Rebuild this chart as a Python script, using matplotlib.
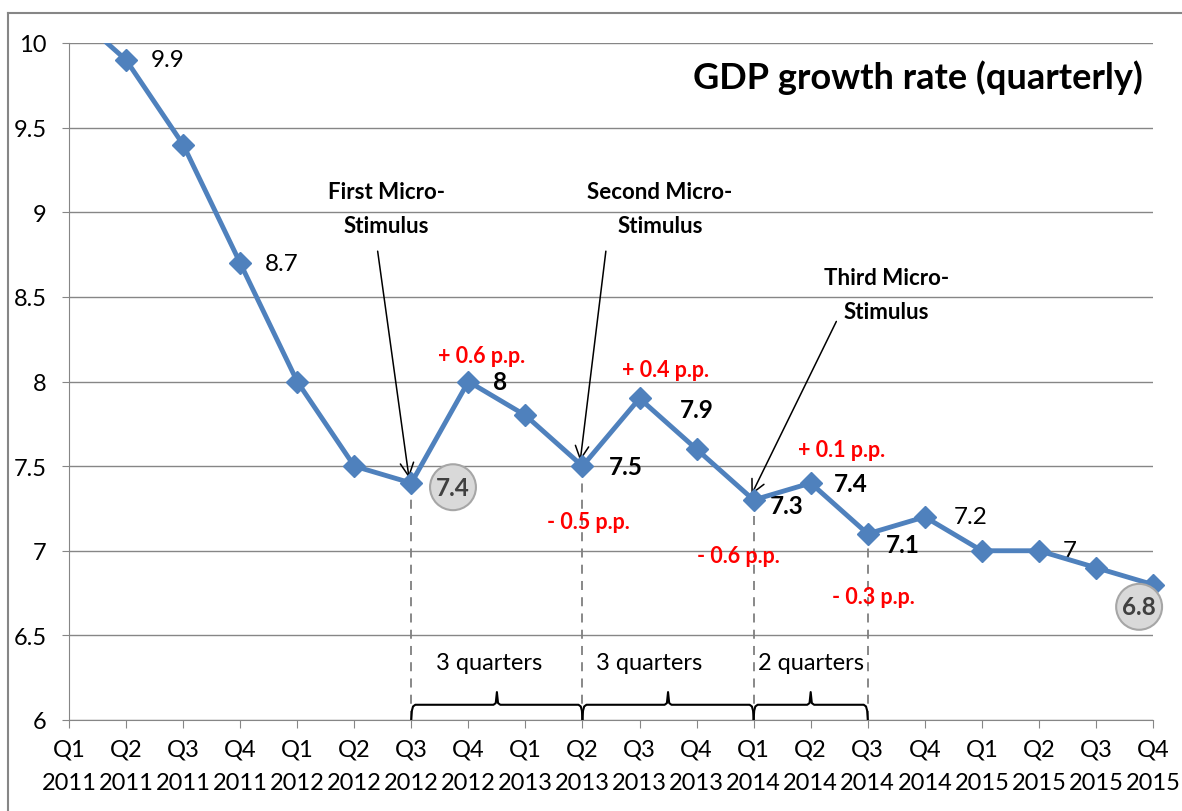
import matplotlib
matplotlib.use('Agg')
import matplotlib.pyplot as plt
from matplotlib.lines import Line2D

# Dados
quarters = ['Q1', 'Q2', 'Q3', 'Q4'] * 5
years = ['2011'] * 4 + ['2012'] * 4 + ['2013'] * 4 + ['2014'] * 4 + ['2015'] * 4
gdp = [10.2, 9.9, 9.4, 8.7, 8.0, 7.5, 7.4, 8.0, 7.8, 7.5,
       7.9, 7.6, 7.3, 7.4, 7.1, 7.2, 7.0, 7.0, 6.9, 6.8]
tick_labels = [f"{q}\n{y}" for q, y in zip(quarters, years)]

# (indice, texto, negrito, dx, dy em pontos)
point_labels = [
    (1, '9.9', False, 30, 0),
    (3, '8.7', False, 30, 0),
    (7, '8', True, 23, 0),
    (10, '7.9', True, 41, -8),
    (9, '7.5', True, 31, 0),
    (12, '7.3', True, 24, -4),
    (13, '7.4', True, 29, 0),
    (14, '7.1', True, 25, -8),
    (15, '7.2', False, 33, 0),
    (17, '7', False, 22, 0),
]
circled = [(6, '7.4', 30, -3), (19, '6.8', -10, -16)]

stimuli = ['First Micro-\nStimulus', 'Second Micro-\nStimulus', 'Third Micro-\nStimulus']
stim_text_pos = [(5.56, 9.02), (10.36, 9.02), (14.33, 8.515)]
stim_arrow_start = [(5.41, 8.77), (9.41, 8.77), (13.45, 8.355)]
stim_idx = [6, 9, 12]

pp_labels = ['+ 0.6 p.p.', '+ 0.4 p.p.', '+ 0.1 p.p.', '- 0.5 p.p.', '- 0.6 p.p.', '- 0.3 p.p.']
pp_pos = [(7.24, 8.154), (10.46, 8.071), (13.54, 7.598),
          (9.11, 7.172), (11.74, 6.97), (14.10, 6.728)]

dashed_idx = [6, 9, 12, 14]
spans = [(6, 9, '3 quarters', 7.37), (9, 12, '3 quarters', 10.16), (12, 14, '2 quarters', 13.0)]

plt.rcParams['font.family'] = ['Lato', 'DejaVu Sans']

fig = plt.figure(figsize=(11.82, 8.12), dpi=100)
ax = fig.add_axes([69 / 1182, 1 - 721 / 812, (1153 - 69) / 1182, (721 - 44) / 812])

# Moldura externa
fig.add_artist(Line2D([8 / 1182, 8 / 1182], [0, 1 - 14 / 812], transform=fig.transFigure,
                      color='#868686', lw=1.5))
fig.add_artist(Line2D([8 / 1182, 1], [1 - 14 / 812, 1 - 14 / 812], transform=fig.transFigure,
                      color='#868686', lw=1.5))

x = list(range(len(gdp)))
ax.plot(x, gdp, color='#4F81BD', lw=3.5, zorder=5)
# marcadores sem recorte (só os que ficam dentro da escala)
vis = [(i, v) for i, v in zip(x, gdp) if v <= 10]
ax.plot([p[0] for p in vis], [p[1] for p in vis], ls='none', marker='D', markersize=11,
        color='#4F81BD', zorder=5, clip_on=False)

ax.set_xlim(0, len(gdp) - 1)
ax.set_ylim(6, 10)
ax.set_yticks([6, 6.5, 7, 7.5, 8, 8.5, 9, 9.5, 10])
ax.set_yticklabels(['6', '6.5', '7', '7.5', '8', '8.5', '9', '9.5', '10'], fontsize=17)
ax.set_xticks(x)
ax.set_xticklabels(tick_labels, fontsize=17, linespacing=1.75)
ax.yaxis.grid(True, color='#868686', lw=1)
ax.set_axisbelow(True)
for s in ['top', 'right']:
    ax.spines[s].set_visible(False)
ax.spines['left'].set_color('#868686')
ax.spines['bottom'].set_color('#868686')
ax.tick_params(axis='y', length=5, color='#868686', pad=11)
ax.tick_params(axis='x', length=6, color='#868686', pad=7)

ax.text(0.991, 0.95, 'GDP growth rate (quarterly)', transform=ax.transAxes,
        ha='right', va='center', fontsize=26, fontweight='bold')

# Rótulos dos pontos
for i, txt, bold, dx, dy in point_labels:
    ax.annotate(txt, (i, gdp[i]), xytext=(dx, dy), textcoords='offset points',
                ha='center', va='center', fontsize=17.5,
                fontweight='bold' if bold else 'normal')
for i, txt, dx, dy in circled:
    ax.annotate(txt, (i, gdp[i]), xytext=(dx, dy), textcoords='offset points',
                ha='center', va='center', fontsize=17.5, fontweight='bold', color='#404040',
                bbox=dict(boxstyle='circle,pad=0.25', fc='#D9D9D9', ec='#A6A6A6', lw=1.5),
                annotation_clip=False, zorder=6)

# Estímulos
for txt, tpos, apos, i in zip(stimuli, stim_text_pos, stim_arrow_start, stim_idx):
    ax.text(tpos[0], tpos[1], txt, ha='center', va='center', fontsize=16,
            fontweight='bold', linespacing=1.75)
    ax.annotate('', xy=(i - 0.04, gdp[i] + 0.03), xytext=apos,
                arrowprops=dict(arrowstyle='->', color='black', lw=1.1,
                                mutation_scale=24, shrinkA=0, shrinkB=0))

for txt, pos in zip(pp_labels, pp_pos):
    ax.text(pos[0], pos[1], txt, ha='center', va='center', fontsize=15.5,
            fontweight='bold', color='red')

# Linhas tracejadas
for i in dashed_idx:
    ax.plot([i, i], [6, gdp[i]], color='#7F7F7F', lw=1.3, ls=(0, (5, 4)), zorder=2)

# Chaves
for a, b, txt, tx in spans:
    m = (a + b) / 2
    bx = [a, a + 0.01, a + 0.03, a + 0.07, m - 0.06, m - 0.02, m, m + 0.02, m + 0.06,
          b - 0.07, b - 0.03, b - 0.01, b]
    by = [6.005, 6.055, 6.08, 6.09, 6.09, 6.1, 6.165, 6.1, 6.09,
          6.09, 6.08, 6.055, 6.005]
    ax.plot(bx, by, color='black', lw=1.5, zorder=3)
    ax.text(tx, 6.337, txt, ha='center', va='center', fontsize=17)

fig.savefig('out.png', dpi=100)
